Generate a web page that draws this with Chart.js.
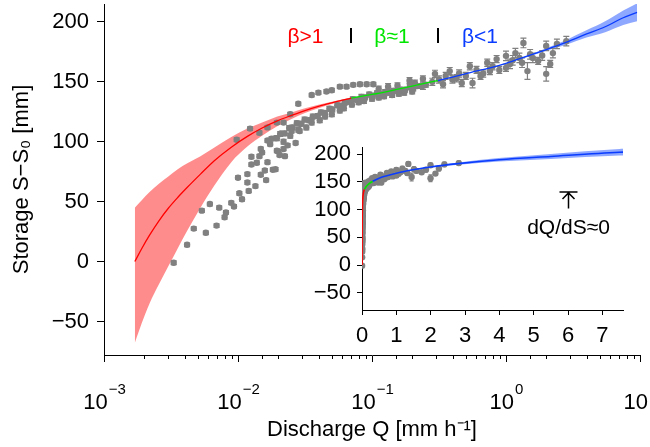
<!DOCTYPE html>
<html>
<head>
<meta charset="utf-8">
<script src="https://cdn.jsdelivr.net/npm/chart.js@4.4.1/dist/chart.umd.min.js"></script>
<style>
  html, body { margin: 0; padding: 0; background: #fff; }
  #wrap { position: relative; width: 650px; height: 447px; }
  #main { position: absolute; left: 0; top: 0; }
  #inset { position: absolute; left: 290px; top: 130px; }
</style>
</head>
<body>
<div id="wrap">
  <canvas id="main" width="650" height="447"></canvas>
  <canvas id="inset" width="345" height="225"></canvas>
</div>
<script>
const obsLogQ = [
  -2.48,-2.38,-2.33,-2.24,-2.16,-2.27,-2.21,-2.14,-2.09,-2.10,-2.05,-2.03,-1.99,-1.97,-2.00,
  -1.93,-1.92,-1.93,-1.90,-1.86,-1.83,-1.87,-1.90,-1.82,-1.78,-1.74,-1.69,-1.83,-1.84,-1.78,
  -1.75,-1.71,-1.66,-1.63,-1.80,-1.79,-1.72,-1.72,-1.68,-1.60,-1.57,-1.54,-1.76,-1.70,-1.65,
  -2.01,-1.91,-1.84,-1.78,-1.71,-1.66,-1.61,-1.55,-1.45,-1.40,-1.34,-1.30,-1.24,-1.19,-1.14,
  -1.09,-1.04,-0.99,
  -1.71,-1.685,-1.652,-1.618,-1.594,-1.561,-1.527,-1.503,-1.468,-1.442,-1.405,-1.381,-1.352,
  -1.318,-1.296,-1.259,-1.233,-1.204,-1.168,-1.143,-1.112,-1.079,-1.052,-1.021,-0.994,-0.963,
  -0.931,-0.902,-0.874,-0.838,-0.812,-0.779,-0.753,-0.718,-0.692,-0.661,-0.634,-0.598,
  -1.66,-1.61,-1.55,-1.49,-1.45,-1.39,-1.35,-1.30,-1.24,-1.21,-1.15,-1.10,-1.06,-1.00,-0.95,
  -0.91,-0.85,-0.80,-0.76,-0.70,
  -0.95,-0.88,-0.81,-0.72,-0.68,-0.62,
  -0.62,-0.55,-0.53,-0.50,-0.47,-0.45,-0.42,-0.40,-0.37,-0.35,-0.33,-0.30,-0.27,-0.25,-0.22,
  -0.19,-0.17,-0.14,-0.12,-0.10,-0.07,-0.05,0.00,0.00,0.03,0.05,0.07,0.10,0.12,0.13,
  0.16,0.18,0.20,0.24,0.27,0.30,0.30,0.33,0.35,0.38,0.45
];
const obsS = [
  -1,14,27.5,24,30,42.5,48,45,41,37,49,46,57,52,70,
  66,59,73,81,82.5,72.5,63,87.5,91,83,76.7,89,94,88,101,
  102.5,92.5,94,97,76,68,77,103,107,109,99,109,98,92,88,
  101.7,111,107.5,112,116,116,123,131.7,139,141,142,143,146,146,147.5,
  148,148,148,
  103,106.5,107,111.5,112,115.5,115,118.5,118,121,121.5,124.5,124,
  127.5,127,130.5,130,132.5,133.5,135.5,135,137.5,137,139.5,138.5,140.5,
  140,141.5,141,142.5,142.5,143.5,143.5,145.5,144.5,146.5,146.5,147.5,
  100,105,110,112,116,118,121,123,126,128,131,133,134,136,137,
  138,139,140,141,142,
  144,146,146.7,151,149,152.5,
  146.7,150,156.7,152,148,155,159,152,153,157,149,155,163,149,160,
  155,157,166,159,163,169,160,171.7,161.7,165,168,174,170,166,182.5,
  159,173,170,167.5,172,180,156.7,165,174,181.7,184
];
const obsErr = [
  1.5,1.5,1.5,1.5,1.5,1.5,1.5,1.5,1.5,1.5,1.5,1.5,1.5,1.5,1.5,
  1.5,1.5,1.5,1.5,1.5,1.5,1.5,1.5,1.5,1.5,1.5,1.5,1.5,1.5,1.5,
  1.5,1.5,1.5,1.5,1.5,1.5,1.5,1.5,1.5,1.5,1.5,1.5,1.5,1.5,1.5,
  1.5,1.5,1.5,1.5,1.5,1.5,1.5,1.5,1.5,1.5,1.5,1.5,1.5,1.5,1.5,
  1.5,1.5,1.5,
  2,2,2,2,2,2,2,2,2,2,2,2,2,
  2,2,2,2,2,2,2,2,2,2,2,2,2,
  2,2,2,2,2,2,2,2,2,2,2,2,
  2,2,2,2,2,2,2,2,2,2,2,2,2,2,2,
  2,2,2,2,2,
  2.5,2.5,2.5,2.5,2.5,2.5,
  3,3,3,3,3,3,3,3,3,3,3,3,3,4,3,
  3,3,3,3,3,3,3,4,3,4,4,4,4,4,4,
  7,4,4,3,4,4,6,3,4,4,4
];

// fitted storage-discharge relation, three regimes
const redLogQ = [-2.77,-2.72,-2.66,-2.59,-2.52,-2.45,-2.378,-2.28,-2.179,-2.05,-1.93,-1.82,-1.707,-1.6,-1.5,-1.4,-1.3,-1.155];
const redS    = [0,10.5,22,34,44.5,53.5,62,73,84,95.5,104.5,111.5,117.5,122,126,129.5,132.5,136.5];
const redLow  = [-68,-52,-35,-19,-4,11,26,45,63,83,96,105,113,119,124,128,131.5,136];
const redHigh = [45,51,58,65,71,77,82,88,95,104,111,116,121,124.5,128,131,133.5,137];

const greenLogQ = [-1.155,-1,-0.824,-0.7,-0.6,-0.509];
const greenS    = [136.5,139.5,143.5,146.5,149,151];

const blueLogQ = [-0.509,-0.398,-0.26,-0.125,0,0.146,0.301,0.447,0.602,0.74,0.875,0.978];
const blueS    = [151,154,158,161.5,165.5,171,177,183,190,196,203.5,208];
const blueBandLogQ = [0.1,0.3,0.45,0.6,0.74,0.875,0.978];
const blueLow  = [168.5,176,181,187,191.5,197.5,200.5];
const blueHigh = [169.5,178,185,193,200.5,209.5,215.5];

// axes
const xTickValues = [0.001, 0.01, 0.1, 1, 10];
const xTickBase = '10';
const xTickExponents = ['−3', '−2', '−1', '0', '1'];
const yTickValues = [-50, 0, 50, 100, 150, 200];
const yTickLabels = ['−50', '0', '50', '100', '150', '200'];
const insetXTicks = [0, 1, 2, 3, 4, 5, 6, 7];

// annotations
const regionLabels = ['β>1', 'β≈1', 'β<1'];
const regionColors = ['#ff0000', '#00e600', '#0a3cff'];
const regionLabelQ = [0.0319, 0.141, 0.64];
const regionBreakQ = [0.0693, 0.311];
const flatQ = 6;

const obsColor = '#808080';
const RED = '#ff0000', GREEN = '#00e600', BLUE = '#0a3cff';
const FONT = '"Liberation Sans", Arial, Helvetica, sans-serif';

Chart.defaults.font.family = FONT;
Chart.defaults.font.size = 22;
Chart.defaults.color = '#000';

const toQ = v => Math.pow(10, v);
const pts = (lq, s) => lq.map((v, i) => ({x: toQ(v), y: s[i]}));
const isDecade = v => Math.abs(Math.log10(v) - Math.round(Math.log10(v))) < 1e-6;

function buildDatasets(lw) {
  const line = (data, color, extra) => Object.assign({
    data, borderColor: color, borderWidth: lw, pointRadius: 0,
    cubicInterpolationMode: 'monotone', fill: false, order: 1
  }, extra || {});
  return [
    line(pts(redLogQ, redLow), 'transparent', {borderWidth: 1, order: 3}),
    line(pts(redLogQ, redHigh), 'transparent', {borderWidth: 1, order: 3, fill: '-1', backgroundColor: 'rgba(255,0,0,0.45)'}),
    line(pts(blueBandLogQ, blueLow), 'transparent', {borderWidth: 1, order: 3}),
    line(pts(blueBandLogQ, blueHigh), 'transparent', {borderWidth: 1, order: 3, fill: '-1', backgroundColor: 'rgba(30,80,255,0.5)'}),
    {data: pts(obsLogQ, obsS), showLine: false, pointRadius: 3.2, pointBackgroundColor: obsColor,
     pointBorderWidth: 0, borderColor: obsColor, order: 2},
    line(pts(redLogQ, redS), RED),
    line(pts(greenLogQ, greenS), GREEN),
    line(pts(blueLogQ, blueS), BLUE)
  ];
}
const OBS = 4;

const errorBars = {
  id: 'errorBars',
  beforeDatasetDraw(chart, args, opts) {
    if (args.index !== OBS) return;
    const {ctx, chartArea, scales: {x, y}} = chart;
    ctx.save();
    ctx.beginPath();
    ctx.rect(chartArea.left, chartArea.top, chartArea.width, chartArea.height);
    ctx.clip();
    ctx.strokeStyle = obsColor;
    ctx.lineWidth = 1.2;
    ctx.beginPath();
    obsLogQ.forEach((lq, i) => {
      const px = x.getPixelForValue(toQ(lq));
      const y1 = y.getPixelForValue(obsS[i] - obsErr[i]);
      const y2 = y.getPixelForValue(obsS[i] + obsErr[i]);
      ctx.moveTo(px, y1); ctx.lineTo(px, y2);
      ctx.moveTo(px - opts.cap, y1); ctx.lineTo(px + opts.cap, y1);
      ctx.moveTo(px - opts.cap, y2); ctx.lineTo(px + opts.cap, y2);
    });
    ctx.stroke();
    ctx.restore();
  }
};

// short minor ticks and "10" + raised exponent labels on the log axis
const logAxisDecor = {
  id: 'logAxisDecor',
  afterDraw(chart) {
    const sc = chart.scales.x, ctx = chart.ctx;
    ctx.save();
    ctx.strokeStyle = '#000';
    ctx.lineWidth = 1;
    ctx.beginPath();
    sc.ticks.forEach(t => {
      if (isDecade(t.value)) return;
      const px = Math.round(sc.getPixelForValue(t.value)) + 0.5;
      ctx.moveTo(px, sc.top);
      ctx.lineTo(px, sc.top + 4);
    });
    ctx.stroke();
    ctx.fillStyle = '#000';
    ctx.textBaseline = 'alphabetic';
    ctx.textAlign = 'left';
    xTickValues.forEach((v, i) => {
      const px = sc.getPixelForValue(v);
      ctx.font = '22px ' + FONT;
      const wb = ctx.measureText(xTickBase).width;
      ctx.font = '15px ' + FONT;
      const we = ctx.measureText(xTickExponents[i]).width;
      const x0 = px - (wb + we) / 2;
      ctx.font = '22px ' + FONT;
      ctx.fillText(xTickBase, x0, sc.top + 54);
      ctx.font = '15px ' + FONT;
      ctx.fillText(xTickExponents[i], x0 + wb + 1, sc.top + 39);
    });
    ctx.restore();
  }
};

const regionNotes = {
  id: 'regionNotes',
  afterDatasetsDraw(chart) {
    const {ctx, scales: {x, y}} = chart;
    ctx.save();
    ctx.font = '21px ' + FONT;
    ctx.textAlign = 'center';
    ctx.textBaseline = 'middle';
    regionLabels.forEach((t, i) => {
      ctx.fillStyle = regionColors[i];
      ctx.fillText(t, x.getPixelForValue(regionLabelQ[i]), y.getPixelForValue(187));
    });
    ctx.strokeStyle = '#000';
    ctx.lineWidth = 2;
    regionBreakQ.forEach(q => {
      const px = Math.round(x.getPixelForValue(q));
      ctx.beginPath();
      ctx.moveTo(px, y.getPixelForValue(182.5));
      ctx.lineTo(px, y.getPixelForValue(195));
      ctx.stroke();
    });
    ctx.restore();
  }
};

const flatNote = {
  id: 'flatNote',
  afterDatasetsDraw(chart) {
    const {ctx, scales: {x, y}} = chart;
    const px = Math.round(x.getPixelForValue(flatQ)) + 0.5;
    const tip = y.getPixelForValue(132), base = y.getPixelForValue(102);
    ctx.save();
    ctx.strokeStyle = '#000';
    ctx.lineWidth = 1.5;
    ctx.beginPath();
    ctx.moveTo(px, base); ctx.lineTo(px, tip);
    ctx.moveTo(px - 6, tip + 7); ctx.lineTo(px, tip + 1); ctx.lineTo(px + 6, tip + 7);
    ctx.moveTo(px - 9, tip); ctx.lineTo(px + 9, tip);
    ctx.stroke();
    ctx.font = '21px ' + FONT;
    ctx.fillStyle = '#000';
    ctx.textAlign = 'center';
    ctx.textBaseline = 'middle';
    ctx.fillText('dQ/dS≈0', px, y.getPixelForValue(66));
    ctx.restore();
  }
};

const mainChart = new Chart(document.getElementById('main'), {
  type: 'line',
  data: {datasets: buildDatasets(1.3)},
  options: {
    responsive: false,
    animation: false,
    layout: {padding: {left: 0, right: 10, top: 2, bottom: 0}},
    plugins: {legend: {display: false}, tooltip: {enabled: false}, errorBars: {cap: 3}},
    scales: {
      x: {
        type: 'logarithmic', min: 0.001, max: 10,
        border: {color: '#000', width: 1},
        grid: {drawOnChartArea: false, tickLength: 7,
               tickColor: c => (c.tick && isDecade(c.tick.value)) ? '#000' : 'rgba(0,0,0,0)'},
        ticks: {display: false, autoSkip: false, maxRotation: 0},
        title: {display: true, text: 'Discharge Q [mm h⁻¹]', padding: {top: 0, bottom: 4}},
        afterFit: s => { s.height = 92; s.paddingLeft = 0; s.paddingRight = 0; }
      },
      y: {
        min: -78, max: 215,
        afterBuildTicks: s => { s.ticks = yTickValues.map(v => ({value: v})); },
        border: {color: '#000', width: 1},
        grid: {drawOnChartArea: false, tickLength: 7, color: '#000'},
        ticks: {padding: 8, callback: v => yTickLabels[yTickValues.indexOf(v)]},
        title: {display: true, text: 'Storage S−S₀ [mm]', padding: {top: 9, bottom: 0}},
        afterFit: s => { s.width = 104; s.paddingTop = 0; s.paddingBottom = 0; }
      }
    }
  },
  plugins: [errorBars, logAxisDecor, regionNotes]
});

// inset: same data on a linear discharge axis
const insetChart = new Chart(document.getElementById('inset'), {
  type: 'line',
  data: {datasets: buildDatasets(1.6)},
  options: {
    responsive: false,
    animation: false,
    layout: {padding: {left: 0, right: 12, top: 17, bottom: 0}},
    plugins: {legend: {display: false}, tooltip: {enabled: false}, errorBars: {cap: 2}},
    scales: {
      x: {
        type: 'linear', min: 0, max: 7.6,
        afterBuildTicks: s => { s.ticks = insetXTicks.map(v => ({value: v})); },
        border: {color: '#000', width: 1},
        grid: {drawOnChartArea: false, tickLength: 5, color: '#000'},
        ticks: {padding: 8},
        afterFit: s => { s.height = 45; s.paddingLeft = 0; s.paddingRight = 0; }
      },
      y: {
        min: -81, max: 213,
        afterBuildTicks: s => { s.ticks = yTickValues.map(v => ({value: v})); },
        border: {color: '#000', width: 1},
        grid: {drawOnChartArea: false, tickLength: 5, color: '#000'},
        ticks: {padding: 6, callback: v => yTickLabels[yTickValues.indexOf(v)]},
        afterFit: s => { s.width = 72; s.paddingTop = 0; s.paddingBottom = 0; }
      }
    }
  },
  plugins: [errorBars, flatNote]
});
</script>
</body>
</html>
